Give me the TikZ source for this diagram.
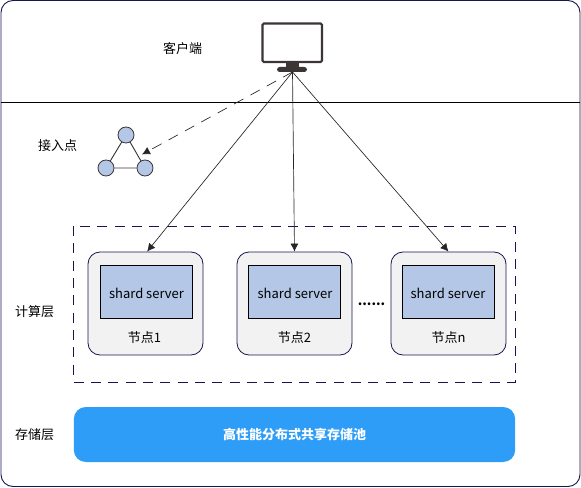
\documentclass[tikz,border=0pt]{standalone}
\usepackage{fontspec}
\setmainfont{Noto Sans CJK SC}
\usetikzlibrary{arrows.meta}
\definecolor{navy}{HTML}{14174F}
\definecolor{srv}{HTML}{B4C7E7}
\definecolor{card}{HTML}{F2F2F2}
\definecolor{pool}{HTML}{2E9DF7}
\definecolor{mon}{HTML}{3B3536}
\tikzset{
  lbl/.style={font=\fontsize{9.75}{11}\selectfont,text=black,inner sep=0pt},
  cardbox/.style={draw=navy,fill=card,rounded corners=9pt,line width=0.6pt,minimum width=86.25pt,minimum height=77.25pt,inner sep=0pt},
  srvbox/.style={draw=black,fill=srv,line width=0.6pt,minimum width=69pt,minimum height=39.75pt,inner sep=0pt},
  dot/.style={circle,draw=mon,fill=srv,line width=0.6pt,minimum size=12pt,inner sep=0pt},
  link/.style={draw=black!85,line width=0.5pt,-{Latex[length=6pt,width=6pt]}},
}
\begin{document}
\begin{tikzpicture}[x=0.75pt,y=-0.75pt]
\useasboundingbox (0,0) rectangle (581,488);
\draw[navy,line width=0.7pt,rounded corners=9pt] (1,0.5) rectangle (580,486.5);
\draw[black,line width=0.6pt] (1,102.5) -- (580,102.5);
% monitor
\draw[mon,line width=1.6pt,rounded corners=1pt,fill=white] (262.5,23.5) rectangle (322,62);
\fill[mon] (286,62) rectangle (299,68);
\fill[mon,rounded corners=2pt] (277,67) rectangle (307,72);
\coordinate (client) at (292.5,72);
\node[lbl] (kehu) at (182.5,49) {客户端};
\node[lbl] (jieru) at (57.5,146) {接入点};
% triangle
\node[dot] (ta) at (126,135) {};
\node[dot] (tb) at (106,168) {};
\node[dot] (tc) at (145,168) {};
\coordinate (tctip) at (142,154.5);
\draw[mon,line width=0.7pt] (ta) -- (tb) -- (tc) -- (ta);
% compute
\draw[navy,line width=0.7pt,dash pattern=on 7.5pt off 5.5pt] (73.5,226) rectangle (515,382);
\node[cardbox] (n1) at (145.5,303.5) {};
\node[cardbox] (n2) at (294.5,303.5) {};
\node[cardbox] (n3) at (448.5,303.5) {};
\node[srvbox] (s1) at (146,291.5) {};
\node[srvbox] (s2) at (294.5,291.5) {};
\node[srvbox] (s3) at (448,291.5) {};
\node[lbl] (t1) at (146.5,293.5) {shard server};
\node[lbl] (t2) at (295,293.5) {shard server};
\node[lbl] (t3) at (448,293.5) {shard server};
\node[lbl] (l1) at (144.5,337.5) {节点1};
\node[lbl] (l2) at (294.5,337.5) {节点2};
\node[lbl] (l3) at (448.5,337.5) {节点n};
\node[lbl] (dots) at (371.5,304.5) {\textbf{......}};
\node[lbl] (jisuan) at (34.5,312) {计算层};
% storage
\node[lbl] (cunchu) at (34.5,435) {存储层};
\node[fill=pool,rounded corners=9pt,minimum width=331pt,minimum height=41.25pt,inner sep=0pt,text=white,font=\fontsize{9.75}{11}\selectfont\bfseries] (pool) at (294.5,434.5) {高性能分布式共享存储池};
% connectors
\draw[link] (client) -- ([xshift=1.2pt]n1.north);
\draw[link] (client) -- (n2.north);
\draw[link] (client) -- (n3.north);
\draw[link,dash pattern=on 8pt off 6pt] (client) -- (tctip);
\end{tikzpicture}
\end{document}
